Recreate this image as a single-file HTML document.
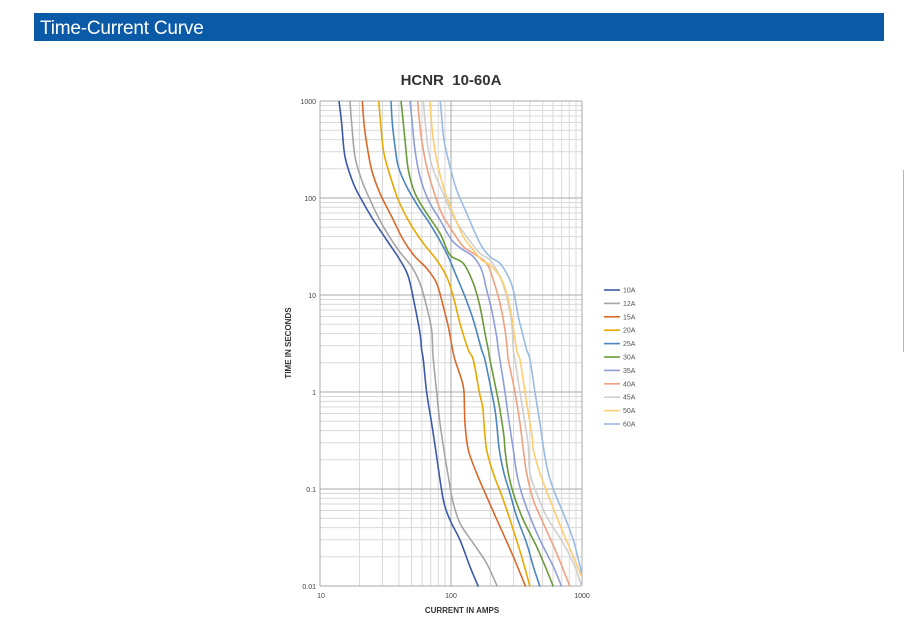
<!DOCTYPE html>
<html><head><meta charset="utf-8"><style>
body{margin:0;background:#fff;width:905px;height:639px;overflow:hidden;font-family:"Liberation Sans",sans-serif}
</style></head><body>
<svg id="s" width="905" height="639" xmlns="http://www.w3.org/2000/svg" style="position:absolute;left:0;top:0">
<rect x="34" y="13" width="850" height="28" fill="#0a5aa8"/>
<text x="40" y="34" font-size="19" fill="#fff" font-family="Liberation Sans, sans-serif" letter-spacing="-0.2">Time-Current Curve</text>
<line x1="903.5" y1="170" x2="903.5" y2="352" stroke="#9bbbe0" stroke-width="1"/>
<text x="451" y="85" font-size="15" font-weight="bold" text-anchor="middle" fill="#333" xml:space="preserve" style="white-space:pre">HCNR  10-60A</text>
<g id="grid"></g>
<g id="curves" fill="none" stroke-width="1.6" stroke-linejoin="round"></g>
<g font-size="7" fill="#444" text-anchor="end">
<text x="316" y="104">1000</text><text x="316" y="201">100</text><text x="316" y="298">10</text>
<text x="316" y="395">1</text><text x="316" y="492">0.1</text><text x="316" y="589">0.01</text>
</g>
<g font-size="7" fill="#444" text-anchor="middle">
<text x="321" y="598">10</text><text x="451" y="598">100</text><text x="582" y="598">1000</text>
</g>
<text x="462" y="613" font-size="8" font-weight="bold" text-anchor="middle" fill="#333">CURRENT IN AMPS</text>
<text transform="translate(291,343) rotate(-90)" font-size="8" font-weight="bold" text-anchor="middle" fill="#333">TIME IN SECONDS</text>
<g id="legend" font-size="7" fill="#555"></g>
</svg>
<script>
var NS="http://www.w3.org/2000/svg";
function el(p,t,a){var e=document.createElementNS(NS,t);for(var k in a)e.setAttribute(k,a[k]);p.appendChild(e);return e;}
var g=document.getElementById('grid');
var L=320,R=582,T=101,B=586;
for(var d=0;d<2;d++)for(var m=2;m<=9;m++){var x=L+131*(d+Math.log10(m));el(g,'line',{x1:x,x2:x,y1:T,y2:B,stroke:'#d9d9d9','stroke-width':1});}
for(var d=0;d<5;d++)for(var m=2;m<=9;m++){var y=B-97*(d+Math.log10(m));el(g,'line',{x1:L,x2:R,y1:y,y2:y,stroke:'#d9d9d9','stroke-width':1});}
for(var i=0;i<3;i++){var x=L+131*i;el(g,'line',{x1:x,x2:x,y1:T,y2:B,stroke:'#aaa','stroke-width':1});}
for(var i=0;i<6;i++){var y=B-97*i;el(g,'line',{x1:L,x2:R,y1:y,y2:y,stroke:'#aaa','stroke-width':1});}
var C=[
['10A','#3a5aa8',[[117,33],[125,100],[135,200],[160,280],[185,330],[220,390],[260,450],[300,510],[325,560],[345,650],[360,730],[365,780]],[[370,60],[380,157],[395,250],[410,350],[430,480],[450,540],[480,600],[510,680],[535,740]]],
['12A','#a5a5a5',[[150,33],[155,100],[165,200],[185,270],[215,340],[250,410],[295,480],[335,530],[360,580],[380,650],[395,720],[398,780]],[[400,60],[410,157],[420,250],[435,350],[450,440],[460,490],[480,550],[520,610],[560,670],[592,740]]],
['15A','#d8692a',[[187,33],[192,100],[200,160],[215,240],[240,310],[275,380],[310,450],[345,500],[380,535],[410,580],[430,650],[445,710],[458,780]],[[465,60],[485,120],[492,157],[495,250],[505,330],[530,400],[560,470],[600,560],[640,650],[677,740]]],
['20A','#e8a800',[[236,33],[242,100],[250,180],[265,240],[295,330],[330,400],[370,460],[410,510],[440,560],[460,620],[480,700],[505,780]],[[520,60],[538,157],[548,200],[552,250],[560,330],[580,400],[610,480],[640,570],[665,650],[690,740]]],
['25A','#4a86c0',[[273,33],[277,100],[285,170],[295,230],[320,290],[355,350],[395,410],[440,490],[470,560],[495,620],[520,690],[545,780]],[[555,60],[575,157],[585,210],[590,250],[598,330],[612,400],[630,460],[650,530],[680,610],[700,680],[720,740]]],
['30A','#6a9a3a',[[303,33],[308,80],[315,150],[325,240],[345,310],[380,370],[420,430],[450,495],[490,520],[520,580],[540,650],[555,730],[565,780]],[[570,60],[590,157],[600,210],[612,290],[615,330],[625,400],[640,460],[670,540],[710,620],[740,690],[760,740]]],
['35A','#8c9fd8',[[330,33],[335,80],[345,180],[360,260],[385,330],[420,390],[455,450],[490,480],[520,500],[545,540],[560,600],[575,660],[590,740],[595,780]],[[600,60],[615,157],[625,230],[640,330],[650,400],[665,460],[690,530],[720,600],[760,680],[785,740]]],
['40A','#f0a080',[[353,33],[357,80],[365,150],[380,230],[400,300],[425,370],[455,420],[490,470],[520,490],[560,520],[580,570],[600,640],[615,720],[622,780]],[[625,60],[645,157],[660,250],[670,330],[680,400],[700,480],[730,550],[770,640],[810,740]]],
['45A','#cfcfcf',[[370,33],[375,90],[385,180],[400,240],[425,300],[460,380],[500,440],[540,490],[570,510],[600,560],[620,620],[635,700],[640,780]],[[645,60],[660,157],[675,250],[685,320],[690,400],[710,460],[740,530],[790,610],[825,680],[845,740]]],
['50A','#ffcc70',[[390,33],[393,80],[400,150],[410,210],[430,290],[455,360],[490,440],[520,480],[545,510],[570,525],[600,560],[620,610],[635,680],[650,780]],[[660,60],[675,157],[690,250],[698,300],[700,330],[720,400],[750,480],[790,580],[820,650],[845,710]]],
['60A','#99bbe6',[[421,33],[425,80],[432,150],[450,230],[470,300],[500,370],[540,460],[570,500],[600,520],[625,560],[640,600],[655,680],[670,740],[680,780]],[[690,60],[705,157],[720,250],[730,320],[745,400],[765,460],[790,520],[820,600],[845,700]]]
];
var cg=document.getElementById('curves'),lg=document.getElementById('legend');
C.forEach(function(c,i){
 var p=[];c[2].forEach(function(q){p.push([q[0]/3+300,q[1]/3+90]);});
 c[3].forEach(function(q){p.push([q[0]/3+300,q[1]/3+340]);});
 var d='M'+p[0][0]+','+p[0][1];
 for(var k=0;k<p.length-1;k++){var p0=p[k-1]||p[k],p1=p[k],p2=p[k+1],p3=p[k+2]||p2;
  d+=' C'+(p1[0]+(p2[0]-p0[0])/6)+','+(p1[1]+(p2[1]-p0[1])/6)+' '+(p2[0]-(p3[0]-p1[0])/6)+','+(p2[1]-(p3[1]-p1[1])/6)+' '+p2[0]+','+p2[1];}
 el(cg,'path',{d:d,stroke:c[1]});
 var y=290+13.4*i;
 el(lg,'line',{x1:604,x2:620,y1:y,y2:y,stroke:c[1],'stroke-width':1.6});
 var t=el(lg,'text',{x:623,y:y+2.5});t.textContent=c[0];
});
</script>
</body></html>
